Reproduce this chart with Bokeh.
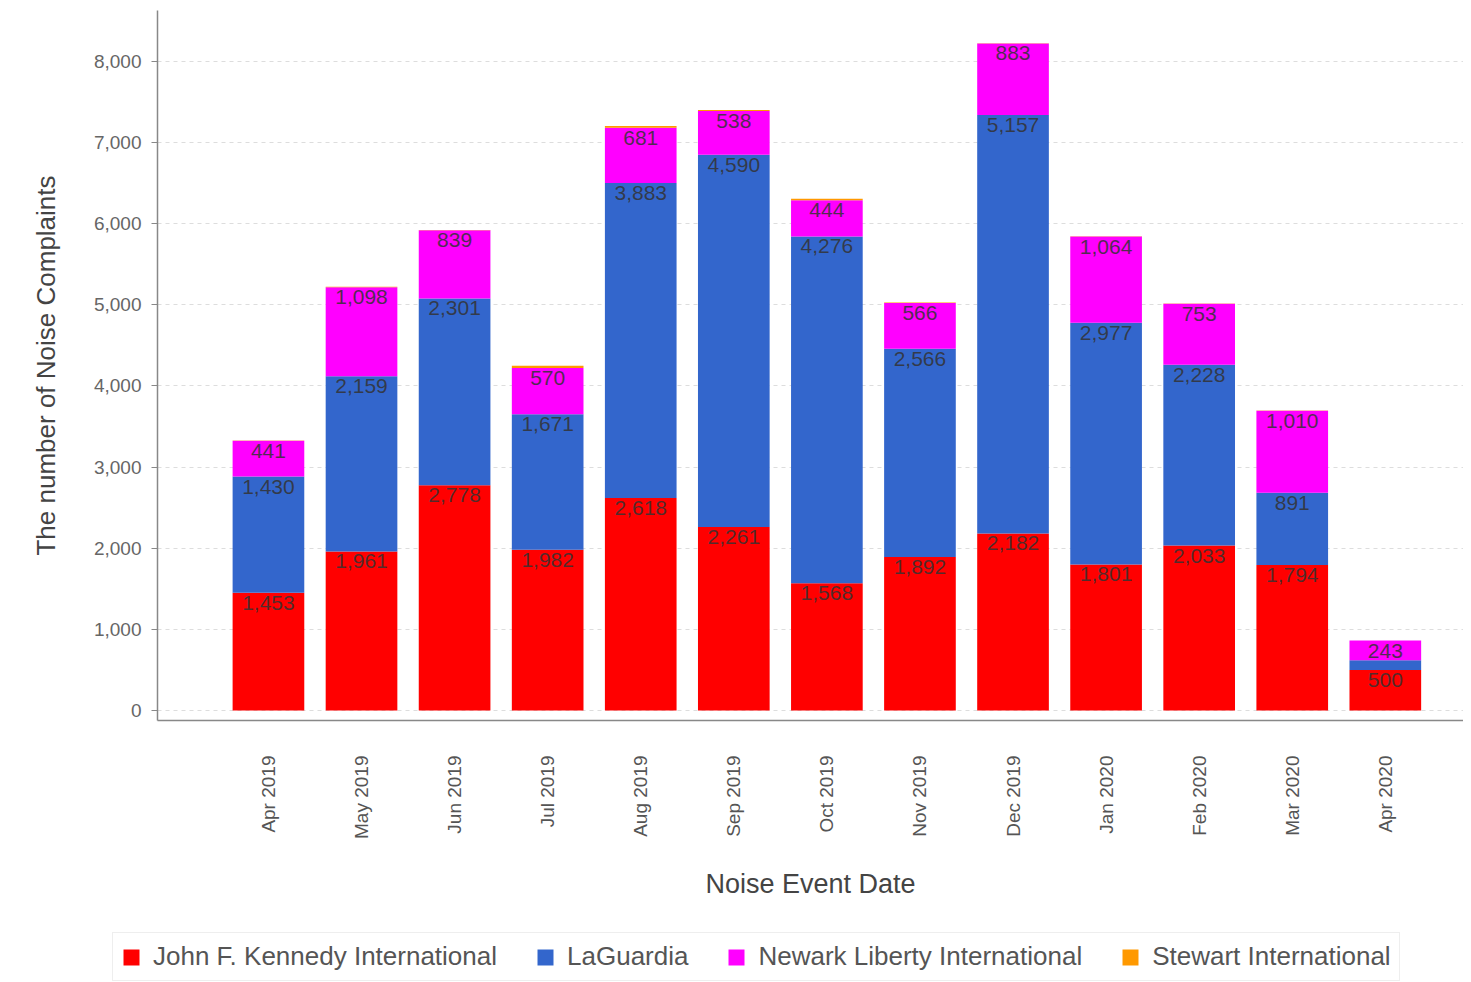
from bokeh.plotting import figure
from bokeh.layouts import column
from bokeh.models import ColumnDataSource, Legend, LegendItem, NumeralTickFormatter, FixedTicker
from bokeh.core.properties import value
from bokeh.embed import file_html
from bokeh.resources import INLINE
import math

months = ["Apr 2019", "May 2019", "Jun 2019", "Jul 2019", "Aug 2019", "Sep 2019", "Oct 2019",
          "Nov 2019", "Dec 2019", "Jan 2020", "Feb 2020", "Mar 2020", "Apr 2020"]
jfk = [1453, 1961, 2778, 1982, 2618, 2261, 1568, 1892, 2182, 1801, 2033, 1794, 500]
lga = [1430, 2159, 2301, 1671, 3883, 4590, 4276, 2566, 5157, 2977, 2228, 891, 120]
ewr = [441, 1098, 839, 570, 681, 538, 444, 566, 883, 1064, 753, 1010, 243]
swf = [3, 4, 4, 25, 22, 12, 20, 4, 3, 4, 3, 3, 1]

series_names = ["John F. Kennedy International", "LaGuardia", "Newark Liberty International", "Stewart International"]
series_keys = ["jfk", "lga", "ewr", "swf"]
colors = ["#ff0000", "#3366cc", "#ff00ff", "#ff9900"]
y_ticks = [0, 1000, 2000, 3000, 4000, 5000, 6000, 7000, 8000]

xs = list(range(len(months)))
source = ColumnDataSource(dict(x=xs, jfk=jfk, lga=lga, ewr=ewr, swf=swf))

p = figure(frame_width=1306, frame_height=710, output_backend="svg", toolbar_location=None,
           x_range=(-1.192, 12.84), y_range=(-123, 8628),
           min_border_left=157, min_border_right=0, min_border_top=10, min_border_bottom=0)
p.outline_line_color = None

renderers = p.vbar_stack(series_keys, x="x", width=0.77, color=colors, line_color=None, source=source)

# data labels at top of each segment
lab_x, lab_y, lab_t = [], [], []
for i in xs:
    cum = 0
    for vals in (jfk, lga, ewr):
        v = vals[i]
        cum += v
        if v >= 200:
            lab_x.append(i)
            lab_y.append(cum)
            lab_t.append(f"{v:,}")
p.text(x=lab_x, y=lab_y, text=lab_t, text_align="center", text_baseline="top", y_offset=3,
       text_font=value("Liberation Sans"), text_font_size="21px", text_color="#333333", text_alpha=0.85)

# axes
xa = p.xaxis[0]
xa.ticker = FixedTicker(ticks=xs)
xa.major_label_overrides = {i: m for i, m in enumerate(months)}
xa.major_label_orientation = math.pi / 2
xa.major_tick_line_color = None
xa.major_tick_out = 0
xa.major_tick_in = 0
xa.minor_tick_line_color = None
xa.major_label_standoff = 35
xa.major_label_text_font = "Liberation Sans"
xa.major_label_text_font_size = "19px"
xa.major_label_text_color = "#555555"
xa.axis_line_color = "#888888"
xa.axis_line_width = 1.5
xa.axis_label = "Noise Event Date"
xa.axis_label_text_font = "Liberation Sans"
xa.axis_label_text_font_style = "normal"
xa.axis_label_text_font_size = "27px"
xa.axis_label_text_color = "#444444"
xa.axis_label_standoff = 27

ya = p.yaxis[0]
ya.ticker = FixedTicker(ticks=y_ticks)
ya.formatter = NumeralTickFormatter(format="0,0")
ya.major_tick_out = 6
ya.major_tick_in = 0
ya.major_tick_line_color = "#888888"
ya.minor_tick_line_color = None
ya.major_label_standoff = 10
ya.major_label_text_font = "Liberation Sans"
ya.major_label_text_font_size = "19px"
ya.major_label_text_color = "#666666"
ya.axis_line_color = "#888888"
ya.axis_line_width = 1.5
ya.axis_label = "The number of Noise Complaints"
ya.axis_label_text_font = "Liberation Sans"
ya.axis_label_text_font_style = "normal"
ya.axis_label_text_font_size = "26px"
ya.axis_label_text_color = "#444444"
ya.axis_label_standoff = 30

p.xgrid.grid_line_color = None
p.ygrid.grid_line_color = "#dddddd"
p.ygrid.grid_line_dash = "4 4"

# legend strip below the chart (proxy bars sit outside its visible range)
p2 = figure(frame_width=1463, frame_height=80, output_backend="svg", toolbar_location=None,
            x_axis_type=None, y_axis_type=None, x_range=(0, 1), y_range=(0, 1),
            min_border_left=0, min_border_right=0, min_border_top=0, min_border_bottom=0)
p2.outline_line_color = None
p2.xgrid.grid_line_color = None
p2.ygrid.grid_line_color = None
proxies = [p2.vbar(x=[10], top=[1], bottom=[0], width=0.1, color=c, line_color=None) for c in colors]

legend = Legend(items=[LegendItem(label=n, renderers=[r]) for n, r in zip(series_names, proxies)],
                orientation="horizontal", location=(112, 0))
legend.label_text_font = "Liberation Sans"
legend.label_text_font_size = "26px"
legend.label_text_color = "#555555"
legend.glyph_width = 20
legend.glyph_height = 20
legend.label_height = 24
legend.label_standoff = 12
legend.spacing = 38
legend.padding = 8
legend.margin = 0
legend.border_line_color = "#dddddd"
legend.border_line_width = 1.5
p2.add_layout(legend, "center")

open("out.html", "w").write(file_html(column(p, p2), INLINE))
